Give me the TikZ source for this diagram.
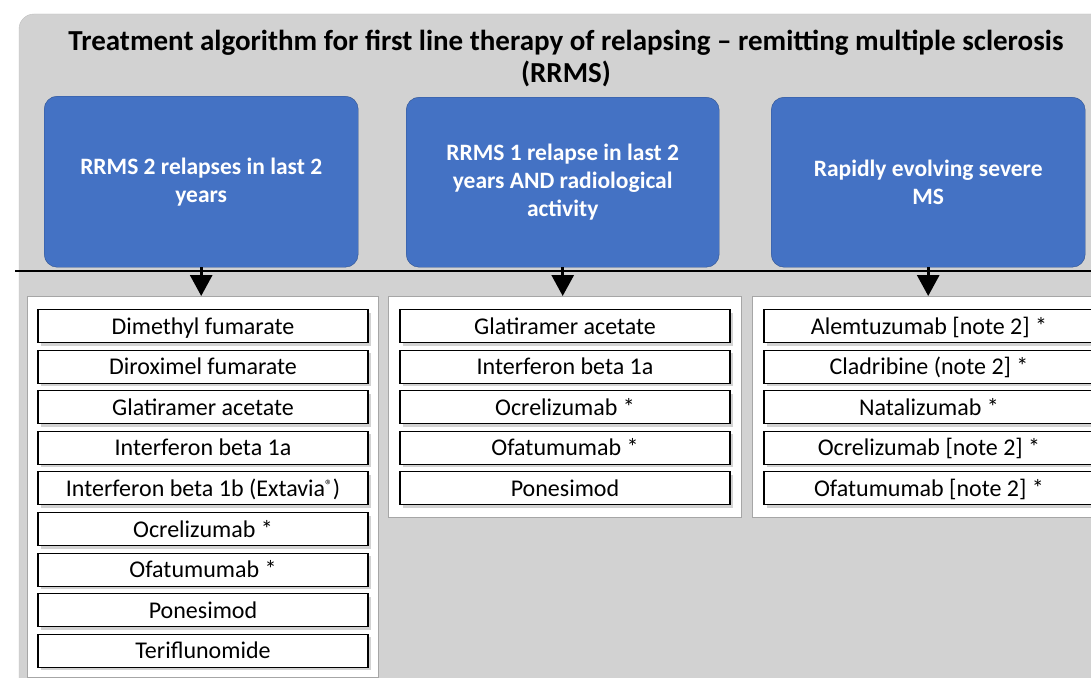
\documentclass[tikz,border=0pt]{standalone}
\usepackage{fontspec}
\setmainfont{Carlito}
\usepackage{tikz}
\usetikzlibrary{arrows.meta, positioning, shadows}
\definecolor{headblue}{RGB}{68,114,196}
\definecolor{headedge}{RGB}{47,82,143}
\definecolor{panelgray}{RGB}{210,210,210}

\begin{document}
\begin{tikzpicture}[x=1pt, y=-1pt,
    headbox/.style={draw=headedge, fill=headblue, rounded corners=13pt, anchor=north west, text=white,
        font=\fontsize{23.5}{28}\selectfont\bfseries, align=center, minimum height=170pt, minimum width=313pt, inner sep=0pt},
    listpanel/.style={draw=black!35, fill=white, anchor=north west, inner sep=0pt},
    drug/.style={draw=black, line width=1.1pt, fill=white, minimum width=330pt, minimum height=33pt, inner sep=0pt,
        text height=20pt, text depth=4pt, font=\fontsize{24}{26}\selectfont,
        drop shadow={shadow xshift=2.5pt, shadow yshift=-3pt, opacity=0.35}},
    flowarrow/.style={line width=3pt, -{Triangle[width=22pt, length=21pt]}}]

    % Page and clipping
    \useasboundingbox (0,0) rectangle (1091,677);
    \clip (0,0) rectangle (1091,677);

    % Gray background panel
    \draw[draw=black!25, fill=panelgray, rounded corners=15pt] (19,14) rectangle (1130,720);

    % Title
    \node[font=\fontsize{29}{32}\selectfont\bfseries, align=center] (title) at (566,58)
        {Treatment algorithm for first line therapy of relapsing -- remitting multiple sclerosis\\(RRMS)};

    % Patient groups
    \node[headbox, minimum width=314pt, minimum height=171pt] (grp1) at (44,96) {RRMS 2 relapses in last 2\\years};
    \node[headbox] (grp2) at (406,97) {RRMS 1 relapse in last 2\\years AND radiological\\activity};
    \node[headbox, minimum width=314pt] (grp3) at (771,97) {Rapidly evolving severe\\MS};

    % Drug panels
    \node[listpanel, minimum width=351pt, minimum height=381pt] (pan1) at (27,296) {};
    \node[listpanel, minimum width=353pt, minimum height=221pt] (pan2) at (388,296) {};
    \node[listpanel, minimum width=360pt, minimum height=221pt] (pan3) at (752,296) {};

    % Divider line
    \coordinate (divl) at (15,271);
    \coordinate (divr) at (1091,271);
    \draw[line width=1.3pt] (divl) -- (divr);

    % Arrows
    \draw[flowarrow] (grp1.south) -- (pan1.north -| grp1.south);
    \draw[flowarrow] (grp2.south) -- (pan2.north -| grp2.south);
    \draw[flowarrow] (grp3.south) -- (pan3.north -| grp3.south);

    % Left column
    \node[drug] (a1) at (203,326) {Dimethyl fumarate};
    \node[drug, below=6.5pt of a1] (a2) {Diroximel fumarate};
    \node[drug, below=6.5pt of a2] (a3) {Glatiramer acetate};
    \node[drug, below=6.5pt of a3] (a4) {Interferon beta 1a};
    \node[drug, below=6.5pt of a4] (a5) {Interferon beta 1b (Extavia\raisebox{6pt}{\fontsize{15}{15}\selectfont ®})};
    \node[drug, below=6.5pt of a5] (a6) {Ocrelizumab *};
    \node[drug, below=6.5pt of a6] (a7) {Ofatumumab *};
    \node[drug, below=6.5pt of a7] (a8) {Ponesimod};
    \node[drug, below=6.5pt of a8] (a9) {Teriflunomide};

    % Middle column
    \node[drug] (b1) at (565,326) {Glatiramer acetate};
    \node[drug, below=6.5pt of b1] (b2) {Interferon beta 1a};
    \node[drug, below=6.5pt of b2] (b3) {Ocrelizumab *};
    \node[drug, below=6.5pt of b3] (b4) {Ofatumumab *};
    \node[drug, below=6.5pt of b4] (b5) {Ponesimod};

    % Right column
    \node[drug] (c1) at (929,326) {Alemtuzumab [note 2] *};
    \node[drug, below=6.5pt of c1] (c2) {Cladribine (note 2] *};
    \node[drug, below=6.5pt of c2] (c3) {Natalizumab *};
    \node[drug, below=6.5pt of c3] (c4) {Ocrelizumab [note 2] *};
    \node[drug, below=6.5pt of c4] (c5) {Ofatumumab [note 2] *};
\end{tikzpicture}
\end{document}
